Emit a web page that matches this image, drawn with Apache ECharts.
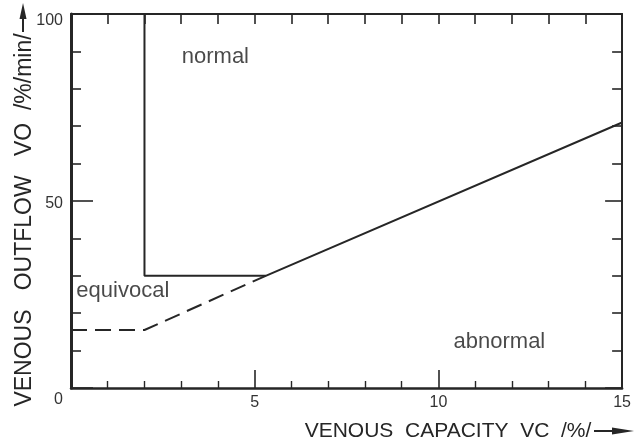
<!DOCTYPE html>
<html>
<head>
<meta charset="utf-8">
<script src="https://cdn.jsdelivr.net/npm/echarts@6/dist/echarts.min.js"></script>
<style>
  html, body { margin: 0; padding: 0; background: #ffffff; }
  #chart { width: 634px; height: 448px; }
</style>
</head>
<body>
<div id="chart"></div>
<script>
// Venous capacity (VC, %) against venous outflow (VO, %/min):
// decision boundaries separating normal / equivocal / abnormal results.

// Solid boundary: vertical at VC = 2, floor at VO = 30, then rising line
const boundarySolidVC = [2, 2, 5.3, 15];
const boundarySolidVO = [100, 30, 30, 71];

// Dashed boundary of the equivocal zone
const boundaryDashedVC = [0, 2, 5.3];
const boundaryDashedVO = [15.5, 15.5, 30];

// Region names and where they sit in (VC, VO) space
const regionNames = ['normal', 'equivocal', 'abnormal'];
const regionVC = [3.93, 1.41, 11.66];
const regionVO = [88.5, 25.9, 12.4];

// Axis ranges and labelled ticks
const vcRange = [0, 15];
const voRange = [0, 100];
const vcTickLabels = [5, 10, 15];
const voTickLabels = [0, 50, 100];

const ink = '#262626';
const font = '"Liberation Sans", Arial, Helvetica, sans-serif';

const zip = (xs, ys) => xs.map((x, i) => [x, ys[i]]);

const chart = echarts.init(document.getElementById('chart'));

const option = {
  animation: false,
  grid: { left: 71, top: 14, width: 563, height: 374 },
  xAxis: [
    {
      type: 'value', position: 'bottom',
      min: vcRange[0], max: vcRange[1], interval: 5,
      splitLine: { show: false },
      axisLine: { show: true, onZero: false, lineStyle: { color: ink, width: 2.5 } },
      axisTick: { show: true, inside: true, length: 18, lineStyle: { color: ink, width: 1.6 } },
      minorTick: { show: true, splitNumber: 5, length: 7, lineStyle: { color: ink, width: 1.4 } },
      axisLabel: {
        show: true, margin: 7, fontSize: 16, color: '#333', fontFamily: font,
        formatter: v => (vcTickLabels.indexOf(v) >= 0 ? String(v) : '')
      }
    },
    // top frame with a tick at every VC unit
    {
      type: 'value', position: 'top',
      min: vcRange[0], max: vcRange[1], interval: 1,
      splitLine: { show: false },
      axisLine: { show: true, onZero: false, lineStyle: { color: ink, width: 2 } },
      axisTick: { show: true, inside: true, length: 10, lineStyle: { color: ink, width: 1.6 } },
      axisLabel: { show: true, fontSize: 1, color: '#ffffff', formatter: () => ' ' }
    }
  ],
  yAxis: [
    {
      type: 'value', position: 'left',
      min: voRange[0], max: voRange[1], interval: 50,
      splitLine: { show: false },
      axisLine: { show: true, onZero: false, lineStyle: { color: ink, width: 3 } },
      axisTick: { show: true, inside: true, length: 22, lineStyle: { color: ink, width: 1.6 } },
      minorTick: { show: true, splitNumber: 5, length: 10, lineStyle: { color: ink, width: 1.6 } },
      axisLabel: {
        show: true, margin: 8, fontSize: 16, color: '#333', fontFamily: font,
        formatter: v => {
          if (voTickLabels.indexOf(v) < 0) return '';
          if (v === 0) return '{low|' + v + '}';
          if (v === 100) return '{top|' + v + '}';
          return '{mid|' + v + '}';
        },
        rich: {
          low: { fontSize: 16, color: '#333', fontFamily: font, padding: [24, 0, 0, 0] },
          mid: { fontSize: 16, color: '#333', fontFamily: font, padding: [6, 0, 0, 0] },
          top: { fontSize: 16, color: '#333', fontFamily: font, padding: [14, 0, 0, 0] }
        }
      }
    },
    {
      type: 'value', position: 'right',
      min: voRange[0], max: voRange[1], interval: 50,
      splitLine: { show: false },
      axisLine: { show: true, onZero: false, lineStyle: { color: ink, width: 2 } },
      axisTick: { show: true, inside: true, length: 17, lineStyle: { color: ink, width: 1.6 } },
      minorTick: { show: true, splitNumber: 5, length: 10, lineStyle: { color: ink, width: 1.6 } },
      axisLabel: { show: false }
    }
  ],
  series: [
    {
      name: 'boundary', type: 'line',
      data: zip(boundarySolidVC, boundarySolidVO),
      symbol: 'none', lineStyle: { color: ink, width: 2 }, z: 3
    },
    {
      name: 'equivocal limit', type: 'line',
      data: zip(boundaryDashedVC, boundaryDashedVO),
      symbol: 'none', lineStyle: { color: ink, width: 2, type: [16, 8] }, z: 3
    },
    {
      name: 'regions', type: 'scatter',
      data: regionNames.map((n, i) => ({ name: n, value: [regionVC[i], regionVO[i]] })),
      symbolSize: 1, itemStyle: { color: 'rgba(255,255,255,0)' },
      label: {
        show: true, position: 'inside', formatter: p => p.name,
        fontSize: 22, color: '#1c1c1c', fontFamily: font
      },
      silent: true, z: 4
    }
  ],
  graphic: [
    // vertical axis title, reading upward, with its arrow
    {
      type: 'text', x: 25, y: 220, rotation: Math.PI / 2,
      style: {
        text: 'VENOUS   OUTFLOW   VO  /%/min/',
        font: '23px ' + font, fill: ink, align: 'center', verticalAlign: 'middle'
      }
    },
    { type: 'line', shape: { x1: 23, y1: 32, x2: 23, y2: 12 }, style: { stroke: ink, lineWidth: 2 } },
    { type: 'polygon', shape: { points: [[19.5, 19], [23, 3], [26.5, 19]] }, style: { fill: ink } },
    // horizontal axis title with its arrow
    {
      type: 'text', x: 448, y: 431,
      style: {
        text: 'VENOUS  CAPACITY  VC  /%/',
        font: '21px ' + font, fill: ink, align: 'center', verticalAlign: 'middle'
      }
    },
    { type: 'line', shape: { x1: 594, y1: 431, x2: 620, y2: 431 }, style: { stroke: ink, lineWidth: 2 } },
    { type: 'polygon', shape: { points: [[612, 427.5], [634, 431], [612, 434.5]] }, style: { fill: ink } }
  ]
};

chart.setOption(option);
</script>
</body>
</html>
